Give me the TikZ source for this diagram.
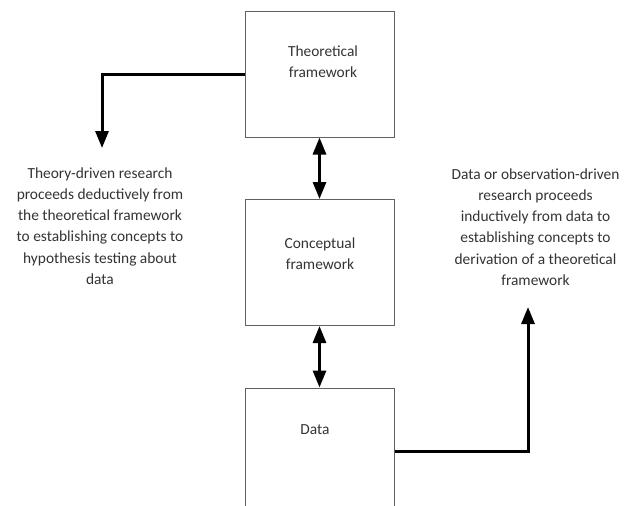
\documentclass[tikz,border=0pt]{standalone}
\usepackage{fontspec}
\setmainfont{Carlito}
\usetikzlibrary{arrows.meta}
\definecolor{txt}{HTML}{333333}
\definecolor{boxline}{HTML}{606060}
\begin{document}
\begin{tikzpicture}[x=1pt,y=-1pt,
  box/.style={draw=boxline,line width=1pt,minimum width=149pt,minimum height=126pt,inner sep=0pt},
  lbl/.style={text=txt,align=center,font=\fontsize{15.4}{21.3}\selectfont,inner sep=0pt},
  conn/.style={line width=3pt,-{Triangle[width=13pt,length=17pt]}},
  dconn/.style={line width=3pt,{Triangle[width=13pt,length=17pt]}-{Triangle[width=13pt,length=17pt]}}]
\useasboundingbox (0,0) rectangle (624,506);
\clip (0,0) rectangle (624,506);
\node[box] (theo) at (319.5,74) {};
\node[box] (conc) at (319.5,262.5) {};
\node[box] (data) at (319.5,451) {};
\node[lbl] (theot) at (323,62) {Theoretical\\framework};
\node[lbl] (conct) at (320,254) {Conceptual\\framework};
\node[lbl] (datat) at (315,430) {Data};
\node[lbl] (left) at (100,226) {Theory-driven research\\proceeds deductively from\\the theoretical framework\\to establishing concepts to\\hypothesis testing about\\data};
\node[lbl] (right) at (535.5,227) {Data or observation-driven\\research proceeds\\inductively from data to\\establishing concepts to\\derivation of a theoretical\\framework};
\coordinate (ltip) at (102,148);
\coordinate (rtip) at (528,307);
\draw[conn] (theo.west) -| (ltip);
\draw[conn] (data.east) -| (rtip);
\draw[dconn] (theo.south) -- (conc.north);
\draw[dconn] (conc.south) -- (data.north);
\end{tikzpicture}
\end{document}
